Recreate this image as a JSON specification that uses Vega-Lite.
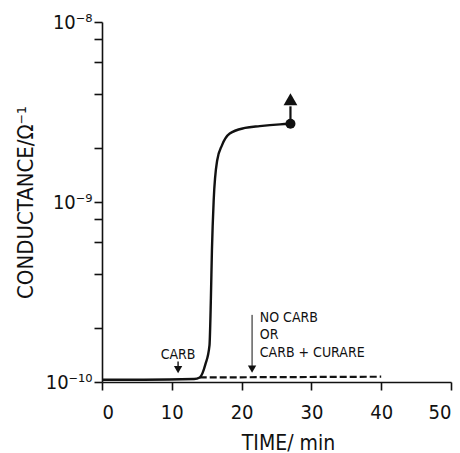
{
  "$schema": "https://vega.github.io/schema/vega-lite/v6.json",
  "autosize": "none",
  "width": 349,
  "height": 360,
  "padding": {"left": 102, "top": 22, "right": 9, "bottom": 71},
  "background": "white",
  "config": {
    "view": {"stroke": null},
    "font": "DejaVu Sans Condensed, DejaVu Sans",
    "axis": {"domainColor": "#111", "tickColor": "#111", "domainWidth": 1.6, "tickWidth": 1.6, "tickSize": 8, "ticks": true, "grid": false, "labelColor": "#111", "titleColor": "#111", "labelFont": "DejaVu Sans Condensed, DejaVu Sans", "titleFont": "DejaVu Sans Condensed, DejaVu Sans", "titleFontWeight": "normal"}
  },
  "datasets": {
    "solid": [
      {"t": 0, "c": 1.03e-10}, {"t": 6, "c": 1.03e-10}, {"t": 13.2, "c": 1.04e-10},
      {"t": 14.0, "c": 1.06e-10}, {"t": 14.8, "c": 1.25e-10}, {"t": 15.4, "c": 1.6e-10},
      {"t": 15.6, "c": 2.9e-10}, {"t": 15.75, "c": 5.4e-10}, {"t": 16.0, "c": 1.02e-9},
      {"t": 16.5, "c": 1.7e-9}, {"t": 17.2, "c": 2.07e-9}, {"t": 18.3, "c": 2.4e-9},
      {"t": 20.5, "c": 2.58e-9}, {"t": 22.6, "c": 2.64e-9}, {"t": 25.5, "c": 2.7e-9},
      {"t": 27.0, "c": 2.72e-9}
    ],
    "dashed": [
      {"t": 14.0, "c": 1.06e-10}, {"t": 40.0, "c": 1.07e-10}
    ],
    "dot": [{"t": 27.0, "c": 2.72e-9}],
    "arrowStems": [
      {"id": "end", "t": 27.0, "c1": 2.72e-9, "c2": 3.4e-9, "w": 2.2},
      {"id": "carb", "t": 10.9, "c1": 1.3e-10, "c2": 1.18e-10, "w": 1.4},
      {"id": "nocarb", "t": 21.5, "c1": 2.36e-10, "c2": 1.2e-10, "w": 1.0}
    ],
    "heads": [
      {"id": "end", "t": 27.0, "c": 3.72e-9, "shape": "triangle-up", "s": 190},
      {"id": "carb", "t": 10.9, "c": 1.17e-10, "shape": "triangle-down", "s": 70},
      {"id": "nocarb", "t": 21.5, "c": 1.18e-10, "shape": "triangle-down", "s": 70}
    ],
    "labelsCenter": [
      {"t": 10.9, "c": 1.41e-10, "txt": "CARB"}
    ],
    "labelsLeft": [
      {"t": 22.6, "c": 2.27e-10, "txt": "NO CARB"},
      {"t": 22.6, "c": 1.82e-10, "txt": "OR"},
      {"t": 22.6, "c": 1.45e-10, "txt": "CARB + CURARE"}
    ]
  },
  "layer": [
    {
      "data": {"name": "solid"},
      "mark": {"type": "line", "color": "#111", "strokeWidth": 2.4, "interpolate": "monotone"},
      "encoding": {
        "x": {"field": "t", "type": "quantitative", "scale": {"domain": [0, 50], "nice": false},
          "axis": {"values": [0, 10, 20, 30, 40, 50], "title": "TIME/ min", "titleFontSize": 21, "labelFontSize": 20, "labelPadding": 12, "titlePadding": 10, "titleX": 186}},
        "y": {"field": "c", "type": "quantitative", "scale": {"type": "log", "domain": [1e-10, 1e-8], "nice": false},
          "axis": {"values": [1e-10, 2e-10, 4e-10, 6e-10, 8e-10, 1e-9, 2e-9, 4e-9, 6e-9, 8e-9, 1e-8],
            "labelExpr": "abs(log(datum.value)/LN10 + 10) < 0.01 ? '10⁻¹⁰' : abs(log(datum.value)/LN10 + 9) < 0.01 ? '10⁻⁹' : abs(log(datum.value)/LN10 + 8) < 0.01 ? '10⁻⁸' : ''",
            "labelOverlap": false,
            "labelFontSize": 20, "labelPadding": 2, "title": "CONDUCTANCE/Ω⁻¹", "titleFontSize": 22, "titlePadding": 8}}
      }
    },
    {
      "data": {"name": "dashed"},
      "mark": {"type": "line", "color": "#111", "strokeWidth": 2.2, "strokeDash": [7, 3]},
      "encoding": {"x": {"field": "t", "type": "quantitative"}, "y": {"field": "c", "type": "quantitative"}}
    },
    {
      "data": {"name": "dot"},
      "mark": {"type": "point", "shape": "circle", "filled": true, "color": "#111", "opacity": 1, "size": 100},
      "encoding": {"x": {"field": "t", "type": "quantitative"}, "y": {"field": "c", "type": "quantitative"}}
    },
    {
      "data": {"name": "arrowStems"},
      "mark": {"type": "rule", "color": "#111"},
      "encoding": {
        "x": {"field": "t", "type": "quantitative"},
        "y": {"field": "c1", "type": "quantitative"},
        "y2": {"field": "c2"},
        "strokeWidth": {"field": "w", "type": "quantitative", "scale": null}
      }
    },
    {
      "data": {"name": "heads"},
      "mark": {"type": "point", "filled": true, "color": "#111", "opacity": 1},
      "encoding": {
        "x": {"field": "t", "type": "quantitative"},
        "y": {"field": "c", "type": "quantitative"},
        "shape": {"field": "shape", "type": "nominal", "scale": null},
        "size": {"field": "s", "type": "quantitative", "scale": null}
      }
    },
    {
      "data": {"name": "labelsCenter"},
      "mark": {"type": "text", "color": "#111", "fontSize": 14, "baseline": "middle", "align": "center"},
      "encoding": {
        "x": {"field": "t", "type": "quantitative"},
        "y": {"field": "c", "type": "quantitative"},
        "text": {"field": "txt"}
      }
    },
    {
      "data": {"name": "labelsLeft"},
      "mark": {"type": "text", "color": "#111", "fontSize": 14, "baseline": "middle", "align": "left"},
      "encoding": {
        "x": {"field": "t", "type": "quantitative"},
        "y": {"field": "c", "type": "quantitative"},
        "text": {"field": "txt"}
      }
    }
  ]
}
